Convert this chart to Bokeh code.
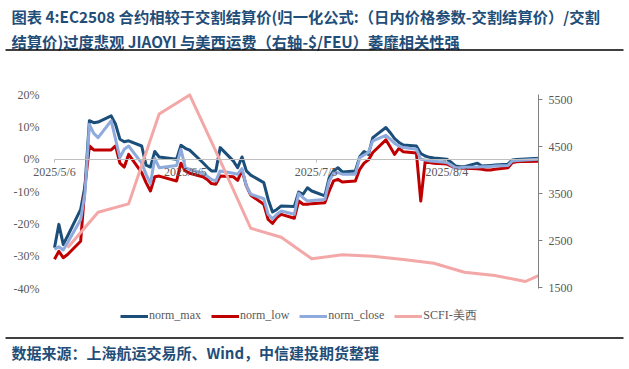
import datetime as dt
from bokeh.plotting import figure
from bokeh.models import (Range1d, LinearAxis, FixedTicker, Label, BoxAnnotation,
                          Legend, LegendItem, PrintfTickFormatter)
from bokeh.embed import file_html
from bokeh.resources import INLINE

# ---------------- data ----------------
dates = ["5/6", "5/7", "5/8", "5/9", "5/12", "5/13", "5/14", "5/15", "5/16", "5/19",
         "5/20", "5/21", "5/22", "5/23", "5/26", "5/27", "5/28", "5/29", "5/30",
         "6/3", "6/4", "6/5", "6/6", "6/9", "6/10", "6/11", "6/12", "6/13", "6/16",
         "6/17", "6/18", "6/19", "6/20", "6/23", "6/24", "6/25", "6/26", "6/27", "6/30",
         "7/1", "7/2", "7/3", "7/4", "7/7", "7/8", "7/9", "7/10", "7/11", "7/14",
         "7/15", "7/16", "7/17", "7/18", "7/21", "7/22", "7/23", "7/24", "7/25", "7/28",
         "7/29", "7/30", "7/31",
         "8/1", "8/4", "8/5", "8/6", "8/7", "8/8", "8/11", "8/12", "8/13", "8/14",
         "8/15", "8/18", "8/19", "8/20", "8/21", "8/22", "8/25"]

norm_max = [-27.3, -20.1, -26.3, -23.7, -15.5, -8.2, 11.9, 11.3, 11.5, 13.4,
            10.8, 6.2, 5.4, 5.7, 4.1, -1.8, -2.4, 2.4, 0.7,
            0.0, 4.3, 3.4, 2.8, -1.0, -2.4, -3.6, -3.6, 3.6, -0.5,
            -2.6, 0.7, -3.6, -4.9, -7.2, -12.4, -16.3, -15.5, -14.4, -14.6,
            -10.1, -10.8, -8.8, -9.8, -11.3, -5.7, -3.6, -2.6, -3.9, -3.6,
            0.8, 2.4, 1.5, 6.7, 9.8, 8.2, 6.4, 5.2, 4.4, 4.1,
            1.8, 1.0, 0.6,
            0.4, 0.0, -1.0, -2.1, -2.3, -2.3, -1.2, -2.1, -2.0, -1.9,
            -1.8, -1.5, -0.2, -0.1, 0.0, 0.1, 0.3]

norm_low = [-30.9, -28.4, -30.4, -29.4, -25.3, -8.2, 4.1, 2.9, 2.9, 2.9,
            4.1, -1.2, -2.4, 1.5, -4.1, -7.2, -9.8, -5.4, -5.2,
            -6.7, -1.2, -3.6, -4.3, -5.4, -6.2, -7.5, -7.7, -5.2, -5.4,
            -6.5, -3.4, -8.2, -11.1, -13.9, -18.6, -19.8, -18.0, -17.0, -18.2,
            -12.9, -13.9, -13.9, -13.7, -13.4, -9.8, -6.7, -6.2, -7.0, -6.7,
            -3.1, -1.2, -0.2, 2.1, 6.0, 3.8, 1.5, 3.4, 2.3, 1.9,
            -12.9, -0.8, -1.0,
            -1.2, -1.5, -2.1, -2.6, -2.7, -2.8, -2.9, -3.1, -3.3, -3.3,
            -3.1, -2.6, -1.0, -0.8, -0.7, -0.7, -0.6]

norm_close = [-27.8, -27.0, -28.0, -25.8, -18.6, -10.3, 10.8, 8.0, 6.7, 11.9,
              6.2, 0.5, 3.1, 4.1, -1.2, -4.6, -7.5, 0.3, -2.6,
              -1.9, 3.1, -2.6, -3.1, -4.3, -5.2, -6.2, -6.7, -3.6, -4.3,
              -4.6, -2.9, -8.2, -10.8, -12.2, -17.0, -18.4, -17.0, -16.0, -17.0,
              -10.5, -11.9, -12.9, -12.7, -12.4, -6.7, -4.3, -4.1, -4.6, -4.6,
              0.5, 1.3, 2.1, 5.7, 7.4, 6.2, 4.9, 4.1, 3.6, 3.1,
              0.0, -0.2, -0.5,
              -0.6, -1.0, -1.8, -2.6, -2.6, -2.5, -2.4, -2.3, -2.3, -2.2,
              -2.1, -1.9, -0.5, -0.4, -0.3, -0.2, 0.0]

scfi_dates = ["5/9", "5/16", "5/23", "5/30", "6/6", "6/13", "6/20", "6/27", "7/4",
              "7/11", "7/18", "7/25", "8/1", "8/8", "8/15", "8/22", "8/25"]
scfi_usw = [2350, 3105, 3283, 5194, 5597, 4200, 2765, 2574, 2116,
            2200, 2171, 2101, 2022, 1831, 1761, 1634, 1761]

tick_dates = ["5/6", "6/5", "7/5", "8/4"]
tick_labels = ["2025/5/6", "2025/6/5", "2025/7/5", "2025/8/4"]
left_ticks = [-40, -30, -20, -10, 0, 10, 20]
right_ticks = [1500, 2500, 3500, 4500, 5500]

title_line1 = "图表 4:EC2508 合约相较于交割结算价(归一化公式:（日内价格参数-交割结算价）/交割"
title_line2 = "结算价)过度悲观 JIAOYI 与美西运费（右轴-$/FEU）萎靡相关性强"
source_text = "数据来源：上海航运交易所、Wind，中信建投期货整理"

# ---------------- layout geometry (pixels) ----------------
W, H = 629, 369
PX_X0, PX_X1 = 54.0, 538.0          # pixel x of first and last date
PX_L_TOP, PX_L_BOT = 94.0, 288.3    # pixel y of 20% and -40%
PX_R_TOP, PX_R_BOT = 99.0, 287.3    # pixel y of 5500 and 1500


def to_dt(s):
    m, d = s.split("/")
    return dt.datetime(2025, int(m), int(d))


EPOCH = dt.datetime(1970, 1, 1)


def to_ms(s):
    return (to_dt(s) - EPOCH).total_seconds() * 1000.0


x = [to_dt(s) for s in dates]
xs = [to_dt(s) for s in scfi_dates]

t0, t1 = to_dt(dates[0]), to_dt(dates[-1])
px_per_day = (PX_X1 - PX_X0) / ((t1 - t0).days)
x_start = t0 - dt.timedelta(days=PX_X0 / px_per_day)
x_end = t1 + dt.timedelta(days=(W - PX_X1) / px_per_day)

lp = (PX_L_BOT - PX_L_TOP) / (left_ticks[-1] - left_ticks[0])
y_start = left_ticks[0] - (H - PX_L_BOT) / lp
y_end = left_ticks[-1] + PX_L_TOP / lp

rp = (PX_R_BOT - PX_R_TOP) / (right_ticks[-1] - right_ticks[0])
r_start = right_ticks[0] - (H - PX_R_BOT) / rp
r_end = right_ticks[-1] + PX_R_TOP / rp

C_MAX = "#1B4F7A"
C_LOW = "#C00000"
C_CLOSE = "#8FAADC"
C_SCFI = "#F4A7A7"
C_TXT = "#595959"
C_TITLE = "#1F4E79"
SERIF = "Liberation Serif"
CJK = "Noto Sans CJK SC"

p = figure(width=W, height=H, output_backend="svg", toolbar_location=None,
           x_axis_type="datetime",
           x_range=Range1d(x_start, x_end),
           y_range=Range1d(y_start, y_end),
           min_border_left=0, min_border_right=0,
           min_border_top=0, min_border_bottom=0)
p.outline_line_color = None
p.xgrid.visible = False
p.ygrid.visible = False
p.background_fill_color = "white"
p.border_fill_color = "white"

# x axis sits on the 0% line
xa = p.xaxis[0]
xa.fixed_location = 0
xa.bounds = (to_ms(dates[0]), to_ms(dates[-1]))
xa.ticker = FixedTicker(ticks=[to_ms(s) for s in tick_dates])
xa.major_label_overrides = {to_ms(s): lab for s, lab in zip(tick_dates, tick_labels)}
xa.axis_line_color = "#BFBFBF"
xa.axis_line_width = 1
xa.major_tick_line_color = "#BFBFBF"
xa.major_tick_out = 3
xa.major_tick_in = 0
xa.minor_tick_line_color = None
xa.major_label_standoff = 3
xa.major_label_text_font = SERIF
xa.major_label_text_font_size = "12px"
xa.major_label_text_color = C_TXT

ya = p.yaxis[0]
ya.fixed_location = to_ms(dates[0])
ya.bounds = (left_ticks[0], left_ticks[-1])
ya.ticker = FixedTicker(ticks=left_ticks)
ya.formatter = PrintfTickFormatter(format="%d%%")
ya.axis_line_color = None
ya.major_tick_line_color = None
ya.minor_tick_line_color = None
ya.major_label_standoff = 9
ya.major_label_text_font = SERIF
ya.major_label_text_font_size = "12px"
ya.major_label_text_color = C_TXT

p.extra_y_ranges = {"scfi": Range1d(r_start, r_end)}
ra = LinearAxis(y_range_name="scfi", ticker=FixedTicker(ticks=right_ticks))
ra.fixed_location = to_ms(dates[-1])
ra.bounds = (1485, 5605)
ra.axis_line_color = "#808080"
ra.major_tick_line_color = "#808080"
ra.major_tick_out = 4
ra.major_tick_in = 0
ra.minor_tick_line_color = None
ra.major_label_standoff = 6
ra.major_label_text_font = SERIF
ra.major_label_text_font_size = "12px"
ra.major_label_text_color = C_TXT
p.add_layout(ra, "right")

r_max = p.line(x, norm_max, line_color=C_MAX, line_width=3, line_join="round")
r_low = p.line(x, norm_low, line_color=C_LOW, line_width=3, line_join="round")
r_close = p.line(x, norm_close, line_color=C_CLOSE, line_width=3, line_join="round")
r_scfi = p.line(xs, scfi_usw, line_color=C_SCFI, line_width=3, line_join="round",
                y_range_name="scfi")

legend = Legend(items=[LegendItem(label="norm_max", renderers=[r_max]),
                       LegendItem(label="norm_low", renderers=[r_low]),
                       LegendItem(label="norm_close", renderers=[r_close]),
                       LegendItem(label="SCFI-美西", renderers=[r_scfi])],
                orientation="horizontal", location=(120, 45),
                glyph_width=28, glyph_height=16, label_height=16,
                label_standoff=1, spacing=10, padding=0, margin=0,
                border_line_color=None, background_fill_alpha=0,
                label_text_font=SERIF, label_text_font_size="12px",
                label_text_color=C_TXT)
p.add_layout(legend, "center")

# title, separators and source (screen units, y measured up from the bottom)
for txt, yy in [(title_line1, H - 15), (title_line2, H - 40)]:
    p.add_layout(Label(x=11, y=yy, x_units="screen", y_units="screen", text=txt,
                       text_font=CJK, text_font_style="bold", text_font_size="15.3px",
                       text_color=C_TITLE, text_baseline="middle"))
p.add_layout(Label(x=11, y=H - 352, x_units="screen", y_units="screen", text=source_text,
                   text_font=CJK, text_font_style="bold", text_font_size="15px",
                   text_color=C_TITLE, text_baseline="middle"))

for yline in [49.5, 337.5]:
    p.add_layout(BoxAnnotation(left=5, right=623, bottom=H - yline - 0.8, top=H - yline + 0.8,
                               left_units="screen", right_units="screen",
                               bottom_units="screen", top_units="screen",
                               fill_color="black", fill_alpha=1.0, line_color=None))

open("out.html", "w").write(file_html(p, INLINE))
